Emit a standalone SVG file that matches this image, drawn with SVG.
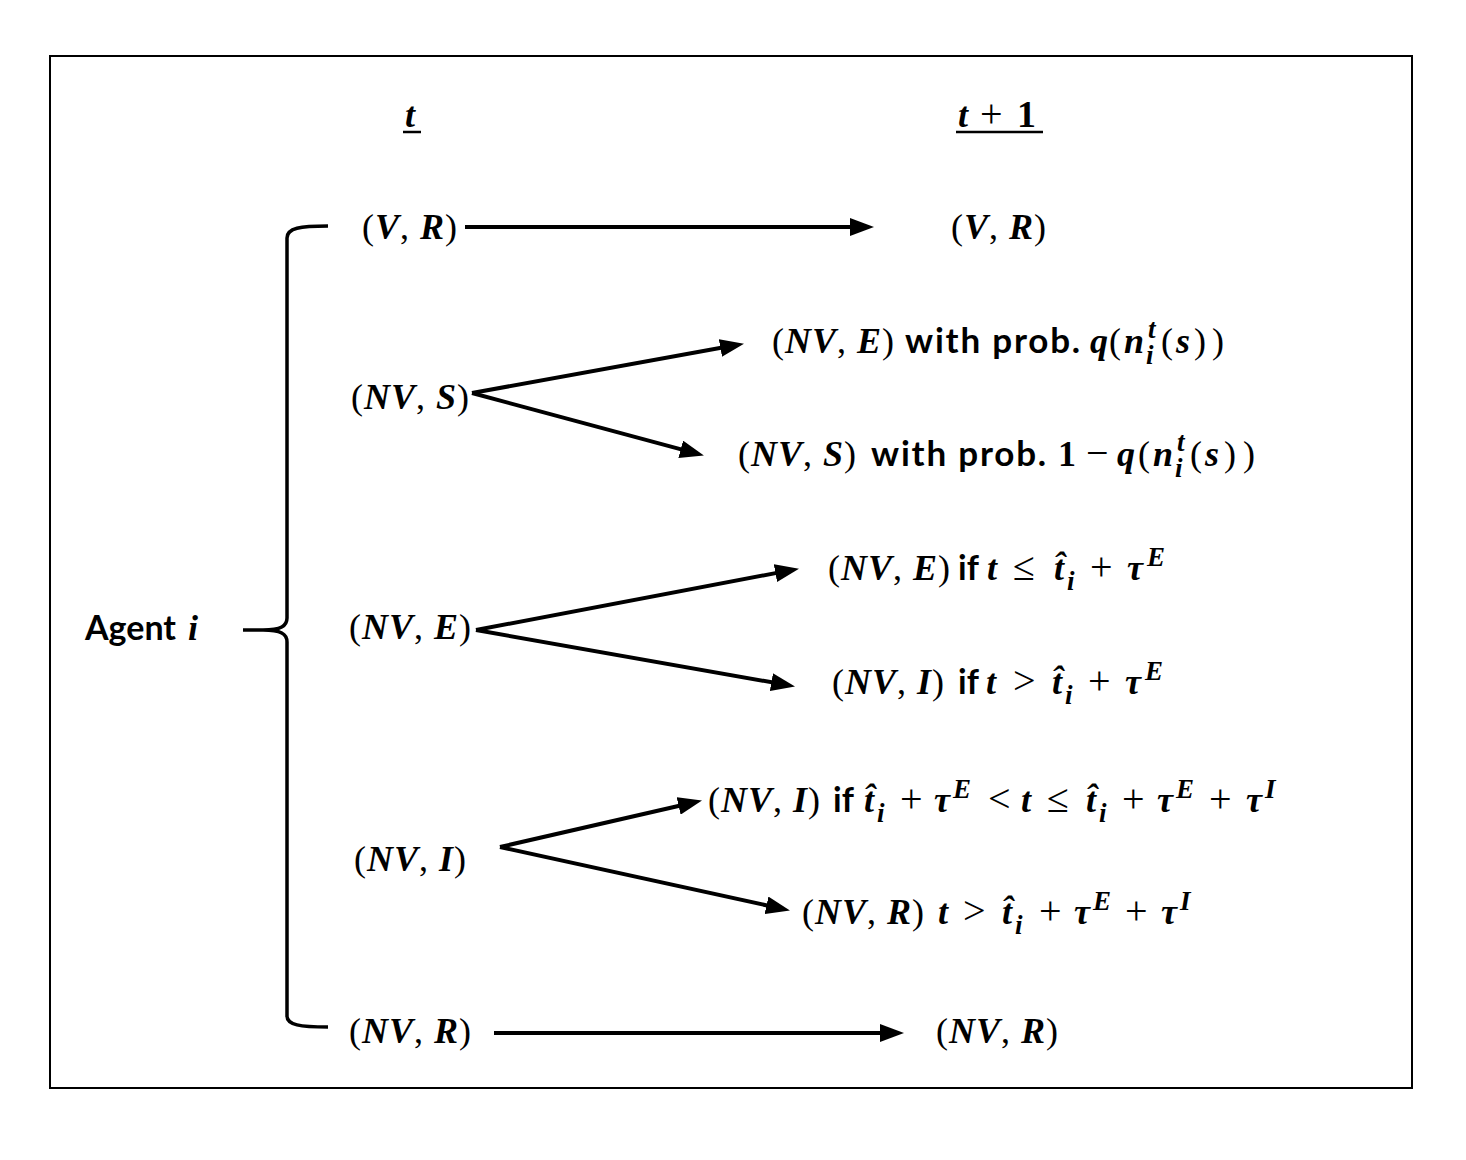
<svg xmlns="http://www.w3.org/2000/svg" width="1466" height="1160" viewBox="0 0 1466 1160">
<defs>
<style>
.m{font-family:"Liberation Serif","DejaVu Serif",serif;font-size:36px;font-weight:bold;font-style:italic;fill:#000}
.ls{letter-spacing:1px}
.r{font-weight:normal;font-style:normal}
.o{font-weight:normal;font-style:normal;font-size:40px}
.u{font-style:normal}
.w{font-family:Lato,"Liberation Sans",sans-serif;font-weight:bold;font-style:normal;font-size:35px;letter-spacing:1.8px}
.wi{font-family:Lato,"Liberation Sans",sans-serif;font-weight:bold;font-style:normal;font-size:34px;letter-spacing:0}
.s{font-size:27px;letter-spacing:0}
.conn line{stroke:#000;stroke-width:4;fill:none}
</style>
<marker id="ah" markerUnits="userSpaceOnUse" markerWidth="24" markerHeight="18" viewBox="0 0 24 18" refX="12" refY="9" orient="auto">
<path d="M0,0 L24,9 L0,18 Z" fill="#000"/>
</marker>
</defs>
<rect x="0" y="0" width="1466" height="1160" fill="#fff"/>
<rect x="50" y="56" width="1362" height="1032" fill="none" stroke="#000" stroke-width="2"/>

<g id="header-t">
<text class="m" x="405" y="127">t</text>
<line x1="403" y1="132" x2="421" y2="132" stroke="#000" stroke-width="2.5"/>
</g>
<g id="header-t1">
<text class="m" y="127"><tspan x="958">t</tspan><tspan class="o" x="980">+</tspan><tspan class="u" x="1017" font-size="38">1</tspan></text>
<line x1="956" y1="132" x2="1043" y2="132" stroke="#000" stroke-width="2.5"/>
</g>

<g id="agent">
<text class="m" y="640"><tspan class="wi" x="85" font-size="32">Agent</tspan><tspan x="188">i</tspan></text>
<path d="M328,226 C300,226 287,228 287,238 L287,618 C287,626 281,630 263,630 L243,630 M263,630 C281,630 287,634 287,642 L287,1016 C287,1025 300,1027 328,1027" fill="none" stroke="#000" stroke-width="3.5"/>
</g>

<g id="n-VR-t"><text class="m ls" x="362" y="239"><tspan class="r">(</tspan>V<tspan class="r">, </tspan>R<tspan class="r">)</tspan></text></g>
<g id="n-VR-t1"><text class="m ls" x="951" y="239"><tspan class="r">(</tspan>V<tspan class="r">, </tspan>R<tspan class="r">)</tspan></text></g>

<g id="n-NVS-t"><text class="m ls" x="351" y="409"><tspan class="r">(</tspan>NV<tspan class="r">, </tspan>S<tspan class="r">)</tspan></text></g>
<g id="n-NVE-prob"><text class="m ls" y="353"><tspan class="r" x="772">(</tspan>NV<tspan class="r">, </tspan>E<tspan class="r">)</tspan><tspan class="w" x="905">with prob.</tspan><tspan x="1090">q</tspan><tspan class="r" x="1109">(</tspan><tspan x="1124">n</tspan><tspan class="s" x="1146" y="364">i</tspan><tspan class="s" x="1148" y="338">t</tspan><tspan class="r" x="1161" y="353">(</tspan><tspan x="1176">s</tspan><tspan class="r" x="1194">)</tspan><tspan class="r" x="1212">)</tspan></text></g>
<g id="n-NVS-prob"><text class="m ls" y="466"><tspan class="r" x="738">(</tspan>NV<tspan class="r">, </tspan>S<tspan class="r">)</tspan><tspan class="w" x="871">with prob.</tspan><tspan class="u" x="1058">1</tspan><tspan class="o" x="1086">−</tspan><tspan x="1117">q</tspan><tspan class="r" x="1138">(</tspan><tspan x="1153">n</tspan><tspan class="s" x="1175" y="477">i</tspan><tspan class="s" x="1177" y="451">t</tspan><tspan class="r" x="1190" y="466">(</tspan><tspan x="1205">s</tspan><tspan class="r" x="1224">)</tspan><tspan class="r" x="1243">)</tspan></text></g>

<g id="n-NVE-t"><text class="m ls" x="349" y="639"><tspan class="r">(</tspan>NV<tspan class="r">, </tspan>E<tspan class="r">)</tspan></text></g>
<g id="n-NVE-if"><text class="m ls" y="580"><tspan class="r" x="828">(</tspan>NV<tspan class="r">, </tspan>E<tspan class="r">)</tspan><tspan class="wi" x="958">if</tspan><tspan x="987">t</tspan><tspan class="o" x="1013">≤</tspan><tspan x="1054">t̂</tspan><tspan class="s" x="1067" y="590">i</tspan><tspan class="o" x="1090" y="580">+</tspan><tspan x="1127">τ</tspan><tspan class="s" x="1147" y="566">E</tspan></text></g>
<g id="n-NVI-if"><text class="m ls" y="694"><tspan class="r" x="832">(</tspan>NV<tspan class="r">, </tspan>I<tspan class="r">)</tspan><tspan class="wi" x="958">if</tspan><tspan x="986">t</tspan><tspan class="o" x="1013">&gt;</tspan><tspan x="1052">t̂</tspan><tspan class="s" x="1065" y="704">i</tspan><tspan class="o" x="1088" y="694">+</tspan><tspan x="1125">τ</tspan><tspan class="s" x="1145" y="680">E</tspan></text></g>

<g id="n-NVI-t"><text class="m ls" x="354" y="871"><tspan class="r">(</tspan>NV<tspan class="r">, </tspan>I<tspan class="r">)</tspan></text></g>
<g id="n-NVI-if2"><text class="m ls" y="812"><tspan class="r" x="708">(</tspan>NV<tspan class="r">, </tspan>I<tspan class="r">)</tspan><tspan class="wi" x="833">if</tspan><tspan x="864">t̂</tspan><tspan class="s" x="877" y="822">i</tspan><tspan class="o" x="900" y="812">+</tspan><tspan x="934">τ</tspan><tspan class="s" x="953" y="798">E</tspan><tspan class="o" x="988" y="812">&lt;</tspan><tspan x="1021">t</tspan><tspan class="o" x="1047">≤</tspan><tspan x="1086">t̂</tspan><tspan class="s" x="1099" y="822">i</tspan><tspan class="o" x="1122" y="812">+</tspan><tspan x="1157">τ</tspan><tspan class="s" x="1176" y="798">E</tspan><tspan class="o" x="1209" y="812">+</tspan><tspan x="1246">τ</tspan><tspan class="s" x="1265" y="798">I</tspan></text></g>
<g id="n-NVR-cond"><text class="m ls" y="924"><tspan class="r" x="802">(</tspan>NV<tspan class="r">, </tspan>R<tspan class="r">)</tspan><tspan x="938">t</tspan><tspan class="o" x="963">&gt;</tspan><tspan x="1002">t̂</tspan><tspan class="s" x="1015" y="934">i</tspan><tspan class="o" x="1039" y="924">+</tspan><tspan x="1074">τ</tspan><tspan class="s" x="1093" y="910">E</tspan><tspan class="o" x="1125" y="924">+</tspan><tspan x="1161">τ</tspan><tspan class="s" x="1180" y="910">I</tspan></text></g>

<g id="n-NVR-t"><text class="m ls" x="349" y="1043"><tspan class="r">(</tspan>NV<tspan class="r">, </tspan>R<tspan class="r">)</tspan></text></g>
<g id="n-NVR-t1"><text class="m ls" x="936" y="1043"><tspan class="r">(</tspan>NV<tspan class="r">, </tspan>R<tspan class="r">)</tspan></text></g>

<g id="connectors" class="conn">
<line x1="465" y1="227" x2="862" y2="227" marker-end="url(#ah)"/>
<line x1="472" y1="393" x2="732.2" y2="345.8" marker-end="url(#ah)"/>
<line x1="472" y1="393" x2="692.3" y2="452.4" marker-end="url(#ah)"/>
<line x1="476" y1="630" x2="787.2" y2="570.9" marker-end="url(#ah)"/>
<line x1="476" y1="630" x2="783.2" y2="684.3" marker-end="url(#ah)"/>
<line x1="500" y1="847" x2="690.3" y2="803.2" marker-end="url(#ah)"/>
<line x1="500" y1="847" x2="778.2" y2="907.9" marker-end="url(#ah)"/>
<line x1="494" y1="1033" x2="892" y2="1033" marker-end="url(#ah)"/>
</g>
</svg>
